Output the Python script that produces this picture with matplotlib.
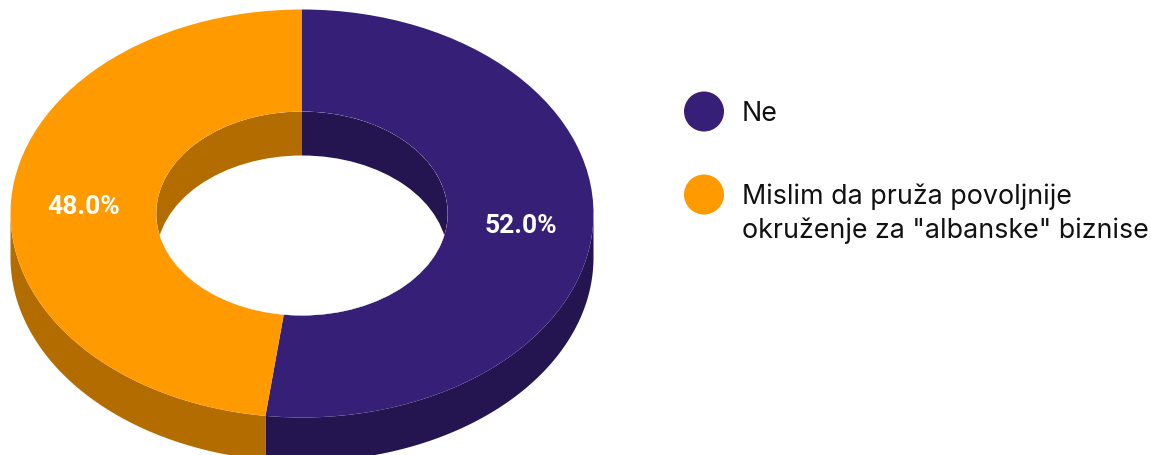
import numpy as np
import matplotlib
matplotlib.use("Agg")
import matplotlib.pyplot as plt
from matplotlib.patches import Ellipse

labels = ['Ne', 'Mislim da pruža povoljnije\nokruženje za "albanske" biznise']
values = [52.0, 48.0]
colors = ['#361f76', '#ff9b00']
dark_colors = ['#241551', '#b36c00']

W, H = 1151, 456
CX, CY = 302, 214.5
RX, RY = 291.5, 204
HOLE = 0.5
DEPTH = 44 / RY

fig = plt.figure(figsize=(W / 100, H / 100), dpi=100)
ax = fig.add_axes([0, 0, 1, 1])

# angles of each slice, clockwise from the top
fracs = np.array(values) / sum(values)
edges = np.concatenate([[0], np.cumsum(fracs)]) * 2 * np.pi


def ring(a, b, r=1.0, dy=0.0):
    t = np.linspace(a, b, 200)
    return r * np.sin(t), r * np.cos(t) - dy


# outer wall, only the front part shows
for i in range(len(values)):
    a = max(edges[i], np.pi / 2)
    b = min(edges[i + 1], 3 * np.pi / 2)
    if b <= a:
        continue
    x, y = ring(a, b)
    x2, y2 = ring(a, b, dy=DEPTH)
    ax.fill(np.r_[x, x2[::-1]], np.r_[y, y2[::-1]], color=dark_colors[i], lw=0, zorder=1)

# top face
ax.pie(values, colors=colors, startangle=90, counterclock=False, radius=1,
       wedgeprops={'width': 1 - HOLE, 'linewidth': 0}, normalize=True)
for w in ax.patches:
    w.set_zorder(2)

# inner wall, clipped to the hole
hole = Ellipse((0, 0), 2 * HOLE, 2 * HOLE, fc='none', ec='none', transform=ax.transData)
ax.add_patch(hole)
for i in range(len(values)):
    x, y = ring(edges[i], edges[i + 1], r=HOLE)
    poly = ax.fill(np.r_[0, x], np.r_[0, y], color=dark_colors[i], lw=0, zorder=3)[0]
    poly.set_clip_path(hole)
white = Ellipse((0, -DEPTH), 2 * HOLE, 2 * HOLE, fc='white', ec='none', zorder=4)
ax.add_patch(white)
white.set_clip_path(hole)

ax.set_aspect('auto')
ax.set_xlim(-CX / RX, (W - CX) / RX)
ax.set_ylim((CY - H) / RY, CY / RY)
ax.axis('off')

# slice labels
ov = fig.add_axes([0, 0, 1, 1])
ov.set_xlim(0, W)
ov.set_ylim(H, 0)
ov.axis('off')
ov.patch.set_alpha(0)
label_pos = [(520.5, 226), (84, 207)]
for v, (lx, ly) in zip(values, label_pos):
    ov.text(lx, ly, f'{v:.1f}%', color='white', fontsize=19, fontweight='bold',
            family='Roboto', ha='center', va='center')

# legend
legend_y = [112.5, 195.5]
ov.scatter([704] * len(labels), legend_y, s=(40 * 0.72) ** 2, c=colors, linewidths=0)
for lab, y in zip(labels, legend_y):
    ov.text(742, y - 11.5, lab, fontsize=19.3, family='Inter', color='#111111',
            ha='left', va='top', linespacing=1.33)

fig.savefig('out.png', dpi=100)
